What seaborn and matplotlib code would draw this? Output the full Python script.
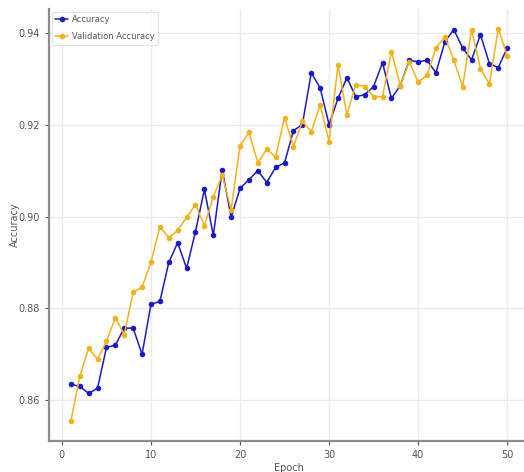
import numpy as np
import pandas as pd
import matplotlib
matplotlib.use("Agg")
import matplotlib.pyplot as plt
import seaborn as sns

epochs = list(range(1, 51))
accuracy = [0.8635, 0.8630, 0.8615, 0.8626, 0.8715, 0.8720, 0.8757, 0.8757, 0.8700, 0.8809,
            0.8815, 0.8900, 0.8943, 0.8887, 0.8967, 0.9059, 0.8959, 0.9102, 0.8998, 0.9061,
            0.9080, 0.9100, 0.9074, 0.9107, 0.9117, 0.9187, 0.9200, 0.9313, 0.9280, 0.9200,
            0.9257, 0.9302, 0.9261, 0.9265, 0.9283, 0.9335, 0.9257, 0.9285, 0.9340, 0.9337,
            0.9340, 0.9313, 0.9380, 0.9407, 0.9367, 0.9341, 0.9396, 0.9333, 0.9324, 0.9367]
val_accuracy = [0.8554, 0.8652, 0.8713, 0.8689, 0.8728, 0.8780, 0.8743, 0.8835, 0.8846, 0.8900,
                0.8978, 0.8954, 0.8970, 0.8998, 0.9026, 0.8980, 0.9043, 0.9090, 0.9015, 0.9154,
                0.9183, 0.9117, 0.9146, 0.9130, 0.9215, 0.9152, 0.9207, 0.9185, 0.9243, 0.9163,
                0.9330, 0.9222, 0.9287, 0.9283, 0.9261, 0.9261, 0.9359, 0.9285, 0.9337, 0.9293,
                0.9307, 0.9367, 0.9391, 0.9341, 0.9283, 0.9407, 0.9322, 0.9289, 0.9409, 0.9350]
series_names = ["Accuracy", "Validation Accuracy"]
colors = ["#1a1ac8", "#f2b21a"]

df = pd.DataFrame({
    "Epoch": epochs * 2,
    "Value": accuracy + val_accuracy,
    "Series": [series_names[0]] * len(epochs) + [series_names[1]] * len(epochs),
})

sns.set_style("whitegrid", {"grid.color": "#ebebeb", "axes.edgecolor": "#8c8c8c",
                            "xtick.bottom": True, "ytick.left": True})
plt.rcParams["font.family"] = ["DejaVu Sans"]

fig = plt.figure(figsize=(5.24, 4.72), dpi=100)
ax = fig.add_axes([49 / 524, 31 / 472, 480 / 524, 432 / 472])

sns.lineplot(data=df, x="Epoch", y="Value", hue="Series", palette=colors,
             marker="o", markersize=4, markeredgewidth=0, linewidth=1.1, ax=ax)

sns.despine(ax=ax)
ax.spines["left"].set_linewidth(1.6)
ax.spines["bottom"].set_linewidth(1.6)
ax.set_xticks([0, 10, 20, 30, 40, 50])
ax.set_yticks([0.86, 0.88, 0.90, 0.92, 0.94])
ax.tick_params(axis="both", labelsize=7, colors="#555555", length=3, width=0.8)
ax.set_xlabel("Epoch", fontsize=7, color="#555555", labelpad=2)
ax.set_ylabel("Accuracy", fontsize=7, color="#555555", labelpad=-1)
ax.grid(True, color="#ebebeb", linewidth=1.0)

leg = ax.legend(loc="upper left", fontsize=6, frameon=True, borderaxespad=0.3,
                handlelength=1.6, labelspacing=1.0, handletextpad=0.5,
                labelcolor="#555555")
leg.get_frame().set_edgecolor("#dddddd")
leg.get_frame().set_linewidth(0.8)

fig.savefig("out.png", dpi=100)
